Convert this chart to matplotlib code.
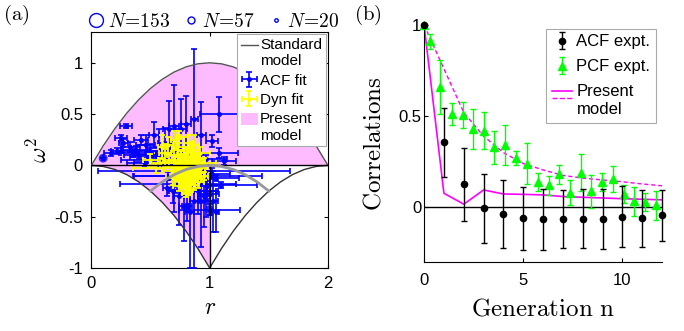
import numpy as np
import matplotlib
matplotlib.use('Agg')
import matplotlib.pyplot as plt
from matplotlib.lines import Line2D
from matplotlib.patches import Patch, Rectangle
from matplotlib.legend_handler import HandlerBase

plt.rcParams['font.family'] = ['Liberation Sans', 'DejaVu Sans']
plt.rcParams['mathtext.fontset'] = 'cm'
plt.rcParams['axes.unicode_minus'] = False

# ---- panel (a): model curves (step 0.1 in r)
r_grid = [0.0, 0.1, 0.2, 0.3, 0.4, 0.5, 0.6, 0.7, 0.8, 0.9, 1.0,
          1.1, 1.2, 1.3, 1.4, 1.5, 1.6, 1.7, 1.8, 1.9, 2.0]
upper_curve = [0, 0.19, 0.36, 0.51, 0.64, 0.75, 0.84, 0.91, 0.96, 0.99, 1.0,
               0.99, 0.96, 0.91, 0.84, 0.75, 0.64, 0.51, 0.36, 0.19, 0]
lower_curve = [0, -0.01, -0.04, -0.09, -0.16, -0.25, -0.36, -0.49, -0.64, -0.81, -1.0,
               -0.81, -0.64, -0.49, -0.36, -0.25, -0.16, -0.09, -0.04, -0.01, 0]
r_arc = [0.5, 0.6, 0.7, 0.8, 0.9, 1.0, 1.1, 1.2, 1.3, 1.4, 1.5]
arc_curve = [-0.25, -0.16, -0.09, -0.04, -0.01, 0, -0.01, -0.04, -0.09, -0.16, -0.25]

# ACF fit points: r, omega^2, errors, marker size
acf_r = [0.10, 0.29, 0.17, 0.22, 0.25, 0.27, 0.33, 0.38, 0.42, 0.46, 0.50, 0.53, 0.57, 0.62,
         0.66, 0.70, 0.76, 0.80, 0.87, 0.93, 1.08, 1.02, 1.08, 1.12, 0.60, 0.55, 0.70, 0.45,
         0.75, 0.97, 0.87, 0.73, 1.00, 0.90, 1.10, 0.83, 0.87, 0.78, 0.93, 0.95, 1.03, 0.97,
         0.70, 0.74, 1.05, 1.02, 0.65, 0.92, 0.64, 0.69, 0.81, 1.05, 0.40, 0.48, 0.58, 0.35,
         0.98, 1.00, 0.90, 0.85]
acf_w = [0.07, 0.38, 0.12, 0.14, 0.27, 0.22, 0.18, 0.15, 0.25, 0.20, 0.14, 0.30, 0.17, 0.22,
         0.35, 0.38, 0.35, 0.40, 0.45, 0.30, 0.50, 0.24, 0.12, 0.04, 0.05, 0.10, 0.12, 0.02,
         0.00, 0.06, -0.05, -0.18, -0.43, -0.10, -0.19, -0.45, -0.35, -0.40, -0.35, -0.30, -0.35, -0.25,
         -0.25, -0.30, -0.12, -0.08, -0.10, -0.15, -0.22, -0.25, -0.40, -0.45, 0.10, 0.08, 0.03, 0.12,
         -0.20, -0.28, -0.25, -0.12]
acf_rerr = [0.0, 0.05, 0.06, 0.05, 0.05, 0.04, 0.08, 0.12, 0.06, 0.08, 0.25, 0.04, 0.10, 0.06,
            0.05, 0.04, 0.05, 0.04, 0.03, 0.04, 0.16, 0.05, 0.16, 0.10, 0.35, 0.20, 0.15, 0.15,
            0.20, 0.18, 0.81, 0.49, 0.26, 0.54, 0.30, 0.04, 0.04, 0.04, 0.03, 0.05, 0.04, 0.10,
            0.05, 0.04, 0.20, 0.15, 0.30, 0.08, 0.03, 0.03, 0.04, 0.03, 0.12, 0.15, 0.22, 0.10,
            0.12, 0.08, 0.15, 0.20]
acf_werr = [0.0, 0.02, 0.03, 0.03, 0.03, 0.04, 0.05, 0.04, 0.05, 0.10, 0.07, 0.12, 0.18, 0.14,
            0.28, 0.40, 0.30, 0.28, 0.68, 0.32, 0.17, 0.06, 0.05, 0.04, 0.03, 0.04, 0.06, 0.03,
            0.03, 0.04, 0.03, 0.03, 0.05, 0.03, 0.03, 0.55, 0.65, 0.34, 0.45, 0.30, 0.30, 0.25,
            0.20, 0.28, 0.03, 0.05, 0.04, 0.20, 0.08, 0.12, 0.14, 0.20, 0.04, 0.05, 0.03, 0.04,
            0.15, 0.20, 0.22, 0.10]
acf_size = [40, 6, 10, 8, 8, 10, 6, 8, 6, 8, 6, 6, 6, 6,
            6, 6, 6, 6, 6, 6, 8, 6, 6, 6, 6, 6, 6, 6,
            6, 6, 6, 6, 40, 6, 6, 6, 6, 6, 6, 6, 6, 6,
            6, 6, 6, 6, 6, 6, 6, 6, 30, 6, 8, 8, 6, 8,
            6, 6, 6, 6]

# Dyn fit points
dyn_r = [0.80, 0.82, 0.78, 0.85, 0.88, 0.75, 0.70, 0.72, 0.84, 0.90, 0.92, 0.68, 0.77, 0.83,
         0.86, 0.80, 0.74, 0.90, 0.62, 0.65, 0.78, 0.86, 0.92, 0.70, 0.82, 0.58, 0.55, 0.95,
         0.60, 0.66, 0.76, 0.88, 0.80, 0.72, 0.95, 0.74, 0.50, 0.83, 0.79, 0.81, 0.87, 0.73,
         0.81, 0.84, 0.79, 0.86, 0.77, 0.83, 0.80, 0.88, 0.76, 0.85, 0.82, 0.78, 0.89, 0.74,
         0.81, 0.87, 0.79, 0.84, 0.71, 0.93, 0.69, 0.82, 0.76, 0.86]
dyn_w = [0.02, -0.05, -0.10, -0.08, -0.02, 0.05, 0.10, -0.02, 0.08, 0.05, -0.06, -0.05, -0.15, -0.18,
         -0.13, -0.22, -0.20, -0.16, 0.12, 0.20, 0.18, 0.15, 0.12, 0.25, 0.22, 0.02, -0.03, 0.02,
         0.18, 0.05, 0.10, 0.10, -0.27, -0.10, -0.10, 0.28, 0.05, 0.00, -0.07, 0.12, 0.20, 0.15,
         -0.03, -0.11, -0.14, 0.01, -0.06, -0.09, -0.12, -0.07, -0.01, -0.04, 0.04, 0.03, -0.10, -0.08,
         -0.17, -0.19, -0.02, 0.06, 0.02, -0.02, -0.12, -0.24, 0.08, -0.05]
dyn_rerr = [0.06, 0.08, 0.05, 0.06, 0.05, 0.07, 0.06, 0.10, 0.05, 0.06, 0.04, 0.08, 0.06, 0.05,
            0.07, 0.04, 0.05, 0.05, 0.05, 0.04, 0.06, 0.05, 0.08, 0.03, 0.04, 0.08, 0.20, 0.10,
            0.04, 0.05, 0.04, 0.04, 0.03, 0.04, 0.04, 0.02, 0.06, 0.12, 0.03, 0.03, 0.04, 0.05,
            0.04, 0.05, 0.06, 0.03, 0.05, 0.04, 0.07, 0.05, 0.04, 0.06, 0.05, 0.08, 0.04, 0.05,
            0.06, 0.04, 0.05, 0.07, 0.09, 0.05, 0.06, 0.04, 0.05, 0.06]
dyn_werr = [0.05, 0.06, 0.08, 0.05, 0.07, 0.06, 0.08, 0.05, 0.08, 0.05, 0.06, 0.04, 0.06, 0.08,
            0.05, 0.06, 0.05, 0.06, 0.09, 0.08, 0.10, 0.08, 0.06, 0.09, 0.08, 0.05, 0.04, 0.05,
            0.12, 0.06, 0.05, 0.05, 0.04, 0.04, 0.04, 0.06, 0.06, 0.03, 0.03, 0.04, 0.10, 0.12,
            0.05, 0.06, 0.07, 0.04, 0.08, 0.05, 0.06, 0.07, 0.05, 0.06, 0.05, 0.07, 0.06, 0.05,
            0.06, 0.05, 0.09, 0.06, 0.08, 0.05, 0.07, 0.05, 0.06, 0.09]

n_labels = ['$N\\!=\\!153$', '$N\\!=\\!57$', '$N\\!=\\!20$']
n_marker = [10, 5, 2.5]

# ---- panel (b): correlations vs generation
gen = [0, 1, 2, 3, 4, 5, 6, 7, 8, 9, 10, 11, 12]
acf_expt = [1.0, 0.356, 0.127, -0.005, -0.038, -0.06, -0.065, -0.065, -0.062, -0.062, -0.051, -0.06, -0.045]
acf_expt_err = [0.0, 0.19, 0.2, 0.19, 0.185, 0.173, 0.167, 0.16, 0.16, 0.165, 0.167, 0.157, 0.14]

pcf_t = [0.0, 0.30, 0.81, 1.39, 1.95, 2.48, 3.02, 3.52, 4.08, 4.63, 5.20, 5.72,
         6.28, 6.80, 7.35, 7.89, 8.44, 8.98, 9.53, 10.07, 10.59, 11.16, 11.68]
pcf_expt = [1.0, 0.91, 0.66, 0.51, 0.505, 0.43, 0.42, 0.33, 0.34, 0.27, 0.24, 0.14,
            0.12, 0.18, 0.08, 0.19, 0.087, 0.14, 0.155, 0.075, 0.033, 0.03, 0.01]
pcf_expt_err = [0.0, 0.04, 0.15, 0.06, 0.07, 0.11, 0.10, 0.09, 0.11, 0.04, 0.11, 0.05,
                0.05, 0.05, 0.07, 0.10, 0.09, 0.05, 0.07, 0.05, 0.08, 0.05, 0.08]

model_acf = [1.0, 0.077, 0.017, 0.095, 0.073, 0.071, 0.068, 0.059, 0.055, 0.051, 0.047, 0.044, 0.041]
model_pcf = [1.0, 0.76, 0.52, 0.39, 0.30, 0.24, 0.205, 0.175, 0.16, 0.15, 0.14, 0.128, 0.118]

pink = '#FFBBFF'
blue = '#0000FF'
yellow = '#FFFF00'
green = '#00FF00'
magenta = '#FF00FF'


class StackHandler(HandlerBase):
    # draws the handle on the first text line (MATLAB style)
    def __init__(self, shift=0.55, gap=0.3):
        super().__init__()
        self.shift = shift
        self.gap = gap

    def create_artists(self, legend, orig_handle, xdescent, ydescent, width,
                       height, fontsize, trans):
        items = orig_handle if isinstance(orig_handle, tuple) else (orig_handle,)
        y0 = height / 2 - ydescent + self.shift * fontsize
        arts = []
        for i, h in enumerate(items):
            y = y0 - i * self.gap * fontsize
            if isinstance(h, Patch):
                a = Rectangle((-xdescent, y - 0.4 * fontsize), width, 0.8 * fontsize,
                              facecolor=h.get_facecolor(), edgecolor='none')
            else:
                a = Line2D([-xdescent, width - xdescent], [y, y], color=h.get_color(),
                           ls=h.get_linestyle(), lw=h.get_linewidth())
            a.set_transform(trans)
            arts.append(a)
        return arts


fig = plt.figure(figsize=(6.84, 3.31), dpi=100)

# ================= panel (a)
ax = fig.add_axes([0.1335, 0.1903, 0.346, 0.713])
ax.fill_between(r_grid, 0, upper_curve, color=pink, lw=0, zorder=1)
ax.fill_between(r_grid[:11], lower_curve[:11], 0, color=pink, lw=0, zorder=1)

acf_h = ax.errorbar(acf_r, acf_w, xerr=acf_rerr, yerr=acf_werr, fmt='o', ms=2.5,
                    color=blue, ecolor=blue, elinewidth=1.2, capsize=2, capthick=1.2, zorder=3)
ax.scatter(acf_r, acf_w, s=acf_size, color=blue, alpha=0.8, lw=0, zorder=3)
dyn_h = ax.errorbar(dyn_r, dyn_w, xerr=dyn_rerr, yerr=dyn_werr, fmt='o', ms=2,
                    color=yellow, ecolor=yellow, elinewidth=1.3, capsize=2, capthick=1.3, zorder=4)

std_line, = ax.plot(r_grid, upper_curve, color='#555555', lw=1, zorder=5)
ax.plot(r_grid, lower_curve, color='#333333', lw=1, zorder=5)
ax.plot([0, 2], [0, 0], color='black', lw=1, zorder=5)
ax.plot([1, 1], [-1, 0], color='black', lw=1, zorder=5)
ax.plot(r_arc, arc_curve, color='#999999', lw=2, zorder=5)

ax.set_xlim(0, 2)
ax.set_ylim(-1, 1.3)
ax.set_xticks([0, 1, 2])
ax.set_yticks([-1, -0.5, 0, 0.5, 1])
ax.set_yticklabels(['-1', '-0.5', '0', '0.5', '1'])
ax.tick_params(direction='in', length=3, labelsize=12, top=True, right=True, pad=6)
ax.set_xlabel('$r$', fontsize=17, labelpad=4)
ax.set_ylabel('$\\omega^2$', fontsize=17, labelpad=2)

present_patch = Patch(facecolor=pink, edgecolor='none')
leg = ax.legend([std_line, acf_h, dyn_h, present_patch],
                ['Standard\nmodel', 'ACF fit', 'Dyn fit', 'Present\nmodel'],
                loc='upper right', fontsize=11, handlelength=1.1, handletextpad=0.15,
                labelspacing=0.35, borderpad=0.25, borderaxespad=0.15, fancybox=False,
                framealpha=1, edgecolor='#AAAAAA',
                handler_map={std_line: StackHandler(), present_patch: StackHandler()})
leg.get_frame().set_linewidth(0.8)
leg.set_zorder(10)

# N size legend above panel (a)
n_handles = [Line2D([], [], ls='none', marker='o', ms=m, mfc='none', mec=blue, mew=1)
             for m in n_marker]
fig.legend(n_handles, n_labels, loc='center left', bbox_to_anchor=(0.128, 0.934),
           ncol=3, frameon=False, fontsize=14, handlelength=0.9, handletextpad=0.15,
           columnspacing=0.6, borderpad=0, borderaxespad=0)

fig.text(0.005, 0.955, '$\\mathrm{(a)}$', fontsize=15, va='center')

# ================= panel (b)
bx = fig.add_axes([0.620, 0.2085, 0.348, 0.716])
bx.plot([0, 12], [0, 0], color='black', lw=1, zorder=1)
m1, = bx.plot(gen, model_acf, color=magenta, lw=1.2, zorder=2)
m2, = bx.plot(gen, model_pcf, color=magenta, lw=1, ls=(0, (3, 2)), zorder=2)
pcf_h = bx.errorbar(pcf_t, pcf_expt, yerr=pcf_expt_err, fmt='^', ms=6, color=green,
                    ecolor=green, elinewidth=1, capsize=2.5, capthick=1, zorder=3, clip_on=False)
acf_e = bx.errorbar(gen, acf_expt, yerr=acf_expt_err, fmt='o', ms=4.5, color='black',
                    ecolor='black', elinewidth=1, capsize=2.5, capthick=1, zorder=4, clip_on=False)

bx.set_xlim(0, 12)
bx.set_ylim(-0.3, 1)
bx.set_xticks([0, 5, 10])
bx.set_yticks([0, 0.5, 1])
bx.set_yticklabels(['0', '0.5', '1'])
bx.spines['top'].set_visible(False)
bx.spines['right'].set_visible(False)
bx.tick_params(direction='in', length=3, labelsize=12)
bx.tick_params(axis='y', pad=2)
bx.tick_params(axis='x', pad=8)
bx.set_xlabel('$\\mathrm{Generation\\ n}$', fontsize=18, labelpad=6)
bx.set_ylabel('$\\mathrm{Correlations}$', fontsize=18, labelpad=9)

leg2 = bx.legend([acf_e, pcf_h, (m1, m2)], ['ACF expt.', 'PCF expt.', 'Present\nmodel'],
                 loc='upper right', bbox_to_anchor=(1.01, 1.02), fontsize=12,
                 handlelength=1.2, handletextpad=0.25, labelspacing=0.6, borderpad=0.35,
                 fancybox=False, framealpha=1, edgecolor='#AAAAAA',
                 handler_map={tuple: StackHandler(shift=0.6, gap=0.45)})
leg2.get_frame().set_linewidth(0.8)

fig.text(0.518, 0.955, '$\\mathrm{(b)}$', fontsize=15, va='center')

fig.savefig('out.png', dpi=100)
